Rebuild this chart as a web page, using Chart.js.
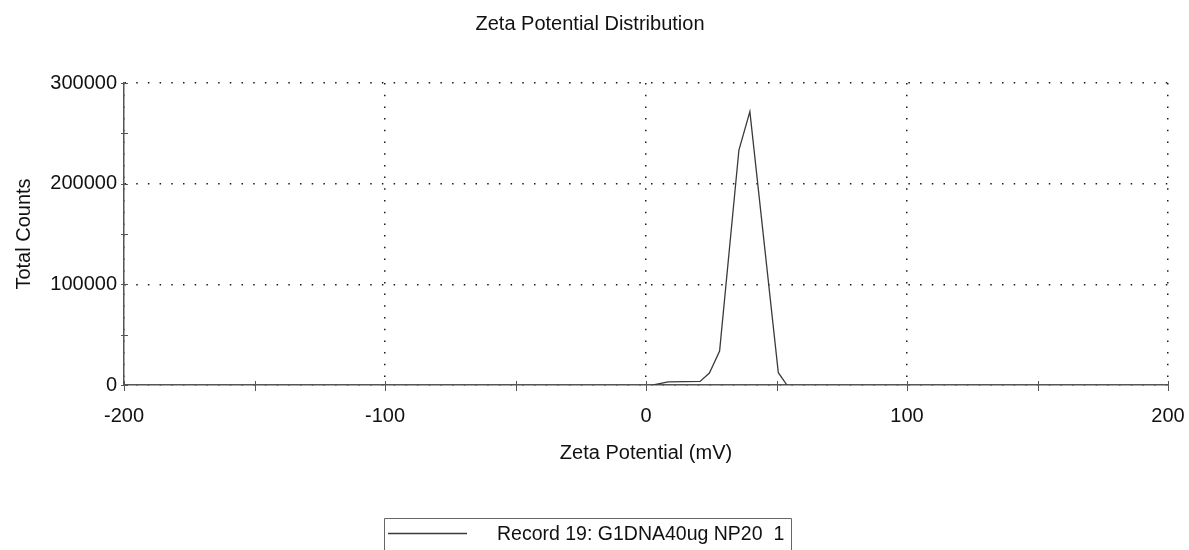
<!DOCTYPE html>
<html>
<head>
<meta charset="utf-8">
<script src="https://cdn.jsdelivr.net/npm/chart.js@4.4.1/dist/chart.umd.min.js"></script>
<style>
  html, body { margin: 0; padding: 0; background: #ffffff; }
  #wrap { width: 1189px; height: 550px; }
</style>
</head>
<body>
<div id="wrap"><canvas id="zeta" width="1189" height="550"></canvas></div>
<script>
// ---- data ----
const chartTitle = 'Zeta Potential Distribution';
const xAxisTitle = 'Zeta Potential (mV)';
const yAxisTitle = 'Total Counts';
const seriesLabel = 'Record 19: G1DNA40ug NP20  1';

const zetaMv      = [2.8, 8.5, 20.7, 24.3, 28.2, 35.6, 39.8, 50.7, 54.0];
const totalCounts = [0, 3200, 3600, 11900, 33800, 233400, 271500, 12200, 0];

const xLabelTicks = [-200, -100, 0, 100, 200];
const yLabelTicks = [0, 100000, 200000, 300000];
const xTickMarks  = [-200, -150, -100, -50, 0, 50, 100, 150, 200];
const yTickMarks  = [0, 50000, 100000, 150000, 200000, 250000, 300000];

// ---- styling ----
const FONT = 'Liberation Sans, Arial, sans-serif';
const AXIS_COLOR = '#555555';
const TEXT_COLOR = '#111111';
const DOT_DASH = [1.5, 10.2];

// small tick marks that cross both axes
const crossTicks = {
  id: 'crossTicks',
  afterDraw(chart) {
    const { ctx, chartArea, scales } = chart;
    ctx.save();
    ctx.strokeStyle = AXIS_COLOR;
    ctx.lineWidth = 1;
    ctx.beginPath();
    xTickMarks.forEach(v => {
      const px = Math.round(scales.x.getPixelForValue(v)) + 0.5;
      ctx.moveTo(px, chartArea.bottom - 4);
      ctx.lineTo(px, chartArea.bottom + 6);
    });
    yTickMarks.forEach(v => {
      const py = Math.round(scales.y.getPixelForValue(v)) + 0.5;
      ctx.moveTo(chartArea.left - 3, py);
      ctx.lineTo(chartArea.left + 4, py);
    });
    ctx.stroke();
    ctx.restore();
  }
};

// boxed series key under the plot
const boxedKey = {
  id: 'boxedKey',
  afterDraw(chart) {
    const { ctx } = chart;
    const ds = chart.data.datasets[0];
    const boxLeft = 384.5, boxTop = 518.5, boxRight = 791.5;
    ctx.save();
    ctx.strokeStyle = '#666666';
    ctx.lineWidth = 1;
    ctx.beginPath();
    ctx.moveTo(boxLeft, chart.height + 2);
    ctx.lineTo(boxLeft, boxTop);
    ctx.lineTo(boxRight, boxTop);
    ctx.lineTo(boxRight, chart.height + 2);
    ctx.stroke();
    ctx.strokeStyle = ds.borderColor;
    ctx.lineWidth = ds.borderWidth;
    ctx.beginPath();
    ctx.moveTo(388, 533.5);
    ctx.lineTo(467, 533.5);
    ctx.stroke();
    ctx.fillStyle = TEXT_COLOR;
    ctx.font = '19.5px ' + FONT;
    ctx.textAlign = 'left';
    ctx.textBaseline = 'middle';
    ctx.fillText(ds.label, 497, 535);
    ctx.restore();
  }
};

new Chart(document.getElementById('zeta'), {
  type: 'scatter',
  data: {
    datasets: [{
      label: seriesLabel,
      data: zetaMv.map((x, i) => ({ x: x, y: totalCounts[i] })),
      showLine: true,
      borderColor: '#3a3a3a',
      borderWidth: 1.3,
      pointRadius: 0,
      tension: 0,
      fill: false
    }]
  },
  options: {
    responsive: false,
    animation: false,
    devicePixelRatio: 1,
    layout: { padding: { left: 12, right: 21, top: 0, bottom: 0 } },
    plugins: {
      legend: { display: false },
      tooltip: { enabled: false },
      title: {
        display: true,
        text: chartTitle,
        color: TEXT_COLOR,
        font: { family: FONT, size: 20, weight: 'normal' },
        padding: { top: 12, bottom: 47 }
      }
    },
    scales: {
      x: {
        type: 'linear',
        min: -200,
        max: 200,
        afterBuildTicks: s => { s.ticks = xLabelTicks.map(v => ({ value: v })); },
        afterFit: s => { s.height = 165; s.paddingLeft = 0; s.paddingRight = 0; },
        ticks: {
          color: TEXT_COLOR,
          font: { family: FONT, size: 20 },
          padding: 19,
          maxRotation: 0,
          autoSkip: false,
          callback: v => String(v)
        },
        grid: { color: '#1a1a1a', lineWidth: 1.5, drawTicks: false },
        border: { display: true, color: AXIS_COLOR, width: 1.5, dash: DOT_DASH },
        title: {
          display: true,
          text: xAxisTitle,
          color: TEXT_COLOR,
          font: { family: FONT, size: 20 },
          padding: { top: 0, bottom: 85 }
        }
      },
      y: {
        type: 'linear',
        min: 0,
        max: 300000,
        afterBuildTicks: s => { s.ticks = yLabelTicks.map(v => ({ value: v })); },
        afterFit: s => { s.width = 112; },
        ticks: {
          color: TEXT_COLOR,
          font: { family: FONT, size: 20 },
          padding: 7,
          autoSkip: false,
          callback: v => String(v)
        },
        grid: { color: '#1a1a1a', lineWidth: 1.5, drawTicks: false },
        border: { display: true, color: AXIS_COLOR, width: 1.5, dash: DOT_DASH },
        title: {
          display: true,
          text: yAxisTitle,
          color: TEXT_COLOR,
          font: { family: FONT, size: 20 },
          padding: { top: 0, bottom: 0 }
        }
      }
    }
  },
  plugins: [crossTicks, boxedKey]
});
</script>
</body>
</html>
